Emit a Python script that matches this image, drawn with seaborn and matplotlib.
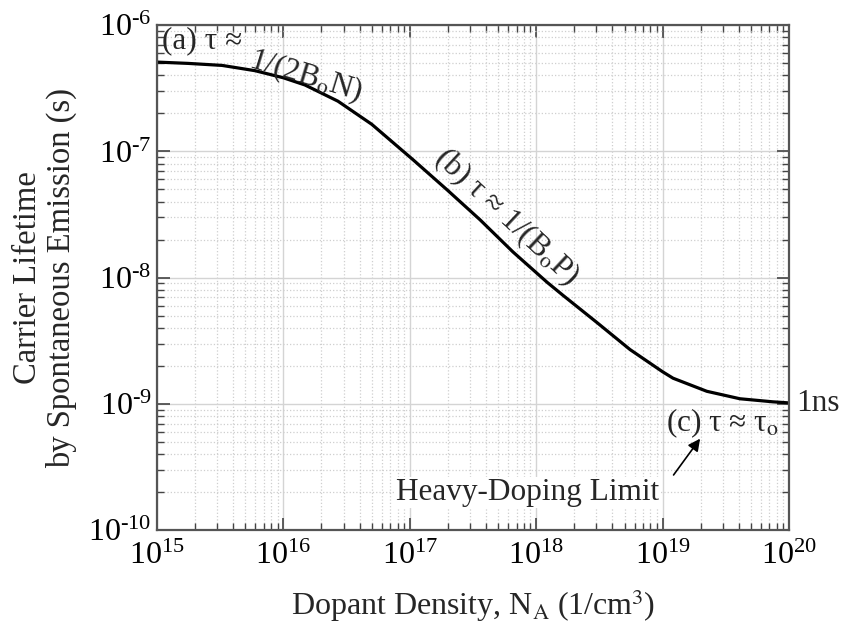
import numpy as np
import pandas as pd
import matplotlib
matplotlib.use("Agg")
import matplotlib.pyplot as plt
import seaborn as sns
from matplotlib.ticker import LogLocator, FuncFormatter, NullFormatter

# Data
dopant_density = [1.0e15, 1.76e15, 3.27e15, 5.96e15, 1.0e16, 1.48e16, 2.7e16, 5.0e16,
                  1.06e17, 1.97e17, 3.59e17, 6.55e17, 1.22e18, 1.63e18, 3.03e18, 5.52e18,
                  1.0e19, 1.21e19, 2.24e19, 4.09e19, 7.46e19, 1.0e20]
lifetime = [5.1e-7, 4.98e-7, 4.8e-7, 4.36e-7, 3.83e-7, 3.36e-7, 2.5e-7, 1.64e-7,
            8.6e-8, 4.97e-8, 2.88e-8, 1.6e-8, 9.2e-9, 7.25e-9, 4.41e-9, 2.7e-9,
            1.8e-9, 1.6e-9, 1.26e-9, 1.10e-9, 1.04e-9, 1.02e-9]

df = pd.DataFrame({"N": dopant_density, "tau": lifetime})

sns.set_theme(style="ticks")
plt.rcParams["font.family"] = ["Liberation Serif", "DejaVu Serif"]
plt.rcParams["mathtext.fontset"] = "stix"
plt.rcParams["mathtext.default"] = "regular"
plt.rcParams["axes.unicode_minus"] = False

fig = plt.figure(figsize=(8.42, 6.29), dpi=100)
ax = fig.add_axes([0.1865, 0.157, 0.7505, 0.803])

sns.lineplot(data=df, x="N", y="tau", ax=ax, color="black", linewidth=2.3)

ax.set_xscale("log")
ax.set_yscale("log")
ax.set_xlim(1e15, 1e20)
ax.set_ylim(1e-10, 1e-6)


def pow_fmt(v, pos):
    e = int(round(np.log10(v)))
    s = str(e).replace("-", "\u2010")
    return r"$10^{%s}$" % s


ax.xaxis.set_major_locator(LogLocator(base=10, numticks=10))
ax.yaxis.set_major_locator(LogLocator(base=10, numticks=10))
ax.xaxis.set_minor_locator(LogLocator(base=10, subs=np.arange(2, 10), numticks=100))
ax.yaxis.set_minor_locator(LogLocator(base=10, subs=np.arange(2, 10), numticks=100))
ax.xaxis.set_major_formatter(FuncFormatter(pow_fmt))
ax.yaxis.set_major_formatter(FuncFormatter(pow_fmt))
ax.xaxis.set_minor_formatter(NullFormatter())
ax.yaxis.set_minor_formatter(NullFormatter())

ax.grid(which="major", color="#d4d4d4", linestyle="-", linewidth=1.0)
ax.grid(which="minor", color="#cfcfcf", linestyle=":", linewidth=0.9)
ax.set_axisbelow(True)

ax.tick_params(which="both", direction="in", top=True, right=True, colors="#444444",
               labelcolor="black")
ax.tick_params(which="major", length=9, width=1.2, labelsize=23)
ax.tick_params(axis="y", which="major", pad=4)
ax.tick_params(axis="x", which="major", pad=8)
ax.tick_params(which="minor", length=5, width=1.0)
for sp in ax.spines.values():
    sp.set_color("#555555")
    sp.set_linewidth(1.6)

fs = 22.5
ax.set_xlabel(r"Dopant Density, N$_\mathrm{A}$ (1/cm$^\mathrm{3}$)", fontsize=23, labelpad=12)
ax.set_ylabel("Carrier Lifetime\nby Spontaneous Emission (s)", fontsize=23.5, labelpad=8,
              linespacing=1.12)

ax.text(10**15.04, 10**-6.12, "(a) τ ≈", fontsize=fs, ha="left", va="center")
ax.text(10**16.18, 10**-6.40, r"1/(2B$_\mathrm{o}$N)", fontsize=fs, ha="center", va="center",
        rotation=-17)
ax.text(10**17.76, 10**-7.52, r"(b) τ ≈ 1/(B$_\mathrm{o}$P)", fontsize=fs, ha="center",
        va="center", rotation=-43, rotation_mode="anchor")
ax.text(10**19.47, 10**-9.15, r"(c) τ ≈ τ$_\mathrm{o}$", fontsize=fs, ha="center", va="center")
ax.annotate("1ns", xy=(1e20, 1e-9), xytext=(5, 0), textcoords="offset points",
            fontsize=fs, ha="left", va="center", annotation_clip=False)
ax.annotate("", xy=(10**19.31, 10**-9.257), xytext=(10**19.074, 10**-9.58),
            arrowprops=dict(arrowstyle="-|>", color="black", lw=1.2, mutation_scale=18))
ax.text(10**17.935, 10**-9.70, "Heavy-Doping Limit", fontsize=fs, ha="center", va="center",
        bbox=dict(facecolor="white", edgecolor="none", pad=1))

fig.savefig("out.png", dpi=100)
